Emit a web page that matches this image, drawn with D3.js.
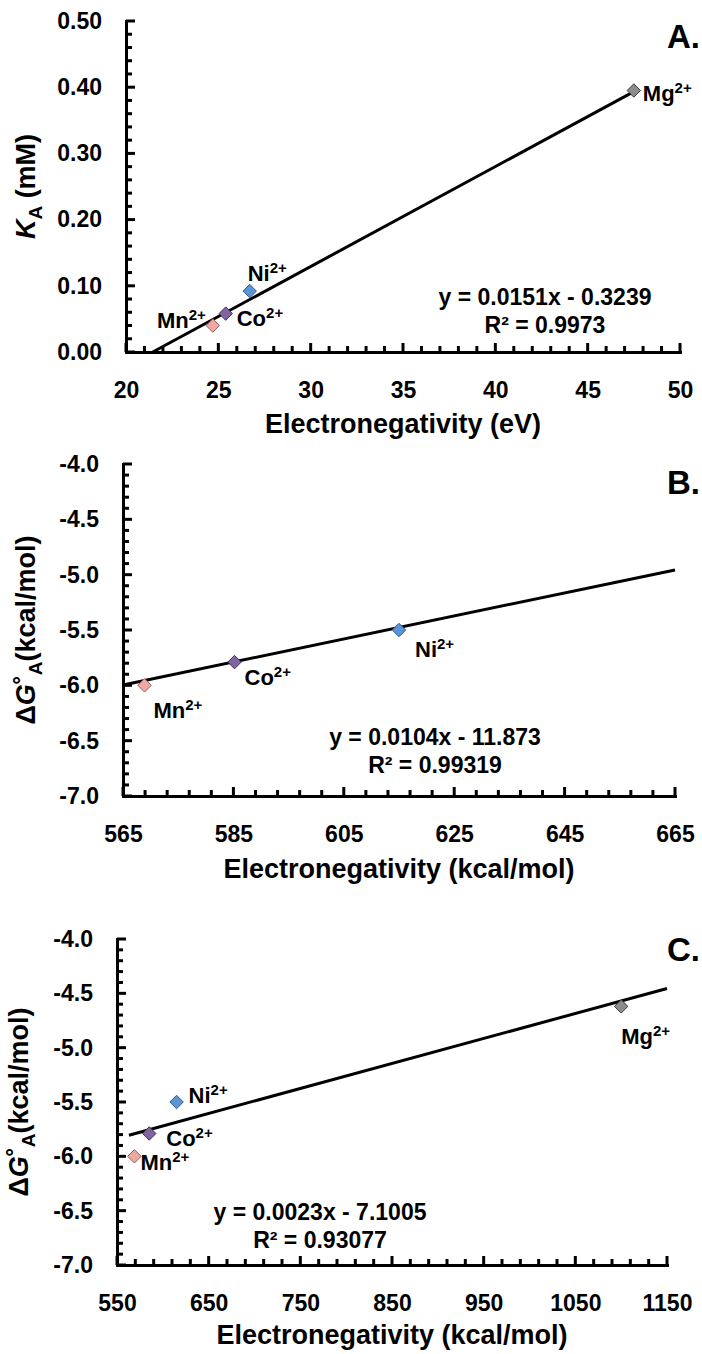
<!DOCTYPE html>
<html>
<head>
<meta charset="utf-8">
<script src="https://cdn.jsdelivr.net/npm/d3@7/dist/d3.min.js"></script>
<style>
  body { margin: 0; background: #fff; }
  text { font-family: "Liberation Sans", Arial, sans-serif; font-weight: bold; fill: #000; }
</style>
</head>
<body>
<svg id="svg" width="702" height="1354"></svg>
<script>
// ions, same order in every panel
var ionNames  = ["Mn", "Co", "Ni", "Mg"];
var ionFill   = ["#EFA9A4", "#8064A2", "#5B95D6", "#8C8C8C"];
var ionStroke = ["#9A5C58", "#3E2F55", "#2E5A8C", "#3A3A3A"];

// A. K_A vs electronegativity (eV)
var aX = [24.7, 25.4, 26.7, 47.5];
var aY = [0.040, 0.058, 0.092, 0.395];
var aFit = [0.0151, -0.3239];
var aFitFrom = [21.45, 47.5];
var aEq = ["y = 0.0151x - 0.3239", "R\u00B2 = 0.9973"];
var aXTicks = [20, 25, 30, 35, 40, 45, 50];
var aYTicks = [0, 0.1, 0.2, 0.3, 0.4, 0.5];

// B. dG vs electronegativity (kcal/mol), no Mg
var bX = [568.9, 585.2, 615.0];
var bY = [-6.00, -5.79, -5.50];
var bFit = [0.0104, -11.873];
var bFitFrom = [565, 665];
var bEq = ["y = 0.0104x - 11.873", "R\u00B2 = 0.99319"];
var bXTicks = [565, 585, 605, 625, 645, 665];
var bYTicks = [-7, -6.5, -6, -5.5, -5, -4.5, -4];

// C. dG vs electronegativity (kcal/mol), with Mg
var cX = [569, 585.2, 615.0, 1100];
var cY = [-6.00, -5.79, -5.50, -4.62];
var cFit = [0.0023, -7.1005];
var cFitFrom = [563, 1150];
var cEq = ["y = 0.0023x - 7.1005", "R\u00B2 = 0.93077"];
var cXTicks = [550, 650, 750, 850, 950, 1050, 1150];
var cYTicks = [-7, -6.5, -6, -5.5, -5, -4.5, -4];

var svg = d3.select("#svg");

function notMajor(list) {
    return function(v) { return list.every(function(t) { return Math.abs(t - v) > 1e-6; }); };
}

function drawPanel(p) {
    var x = d3.scaleLinear().domain(p.xDom).range([p.left, p.right]);
    var y = d3.scaleLinear().domain(p.yDom).range([p.bottom, p.top]);
    var g = svg.append("g").attr("class", "panel" + p.letter);

    // ticks (all inward), drawn by hand so they stay thick
    var xMinor = d3.range(p.xDom[0], p.xDom[1] + 1e-9, p.xMinor).filter(notMajor(p.xTicks));
    var yMinor = d3.range(p.yDom[0], p.yDom[1] + 1e-9, p.yMinor).filter(notMajor(p.yTicks));
    var tk = g.append("g").attr("stroke", "#000").attr("stroke-width", 3);
    tk.selectAll(".xt").data(p.xTicks.map(function(v) { return [v, 9]; }).concat(xMinor.map(function(v) { return [v, 6]; })))
        .enter().append("line")
        .attr("x1", function(d) { return x(d[0]); }).attr("x2", function(d) { return x(d[0]); })
        .attr("y1", p.bottom).attr("y2", function(d) { return p.bottom - d[1]; });
    tk.selectAll(".yt").data(p.yTicks.map(function(v) { return [v, 9]; }).concat(yMinor.map(function(v) { return [v, 6]; })))
        .enter().append("line")
        .attr("y1", function(d) { return y(d[0]); }).attr("y2", function(d) { return y(d[0]); })
        .attr("x1", p.left).attr("x2", function(d) { return p.left + d[1]; });

    var xa = g.append("g").attr("transform", "translate(0," + p.bottom + ")")
        .call(d3.axisBottom(x).tickValues(p.xTicks).tickSize(0)
            .tickPadding(30).tickFormat(d3.format("d")));
    var ya = g.append("g").attr("transform", "translate(" + p.left + ",0)")
        .call(d3.axisLeft(y).tickValues(p.yTicks).tickSize(0)
            .tickPadding(24).tickFormat(function(d) { return d3.format(p.yFmt)(d).replace("\u2212", "-"); }));
    [xa, ya].forEach(function(a) {
        a.select(".domain").attr("stroke", "#000").attr("stroke-width", 3).attr("stroke-linecap", "square");
        a.selectAll("text").attr("font-size", 23).attr("fill", "#000");
        a.attr("font-family", null);
    });

    // trend line
    var line = d3.line().x(function(d) { return x(d); }).y(function(d) { return y(p.fit[0] * d + p.fit[1]); });
    g.append("path").attr("d", line(p.fitFrom)).attr("fill", "none")
        .attr("stroke", "#000").attr("stroke-width", 3);

    // markers
    var pts = p.xs.map(function(v, i) { return { x: v, y: p.ys[i], i: i }; });
    var sym = d3.symbol().type(d3.symbolDiamond2).size(115);
    g.selectAll(".pt").data(pts).enter().append("path").attr("class", "pt")
        .attr("d", sym)
        .attr("transform", function(d) { return "translate(" + x(d.x) + "," + y(d.y) + ")"; })
        .attr("fill", function(d) { return ionFill[d.i]; })
        .attr("stroke", function(d) { return ionStroke[d.i]; })
        .attr("stroke-width", 1);

    // ion labels
    var lab = g.selectAll(".ion").data(pts).enter().append("text").attr("class", "ion")
        .attr("x", function(d) { return x(d.x) + p.labOff[d.i][0]; })
        .attr("y", function(d) { return y(d.y) + p.labOff[d.i][1]; })
        .attr("text-anchor", function(d) { return p.labOff[d.i][2] || "start"; })
        .attr("font-size", 22);
    lab.append("tspan").text(function(d) { return ionNames[d.i]; });
    lab.append("tspan").attr("font-size", 15).attr("dy", -8).text("2+");

    // equation
    g.append("text").attr("x", p.eqPos[0]).attr("y", p.eqPos[1]).attr("text-anchor", "middle")
        .attr("font-size", 23).text(p.eq[0]);
    g.append("text").attr("x", p.eqPos[0]).attr("y", p.eqPos[1] + 28).attr("text-anchor", "middle")
        .attr("font-size", 23).text(p.eq[1]);

    // axis titles
    g.append("text").attr("x", (p.left + p.right) / 2).attr("y", p.bottom + p.xTitleGap)
        .attr("text-anchor", "middle").attr("font-size", 27).text(p.xTitle);
    var yt = g.append("text").attr("text-anchor", "middle").attr("font-size", 27)
        .attr("transform", "translate(" + p.yTitleX + "," + (p.top + p.bottom) / 2 + ") rotate(-90)");
    p.yTitle(yt);

    // panel letter
    g.append("text").attr("x", 700).attr("y", p.letterY).attr("text-anchor", "end")
        .attr("font-size", 33).text(p.letter + ".");
}

function dGTitle(t) {
    t.append("tspan").text("\u0394");
    t.append("tspan").attr("font-style", "italic").text("G");
    t.append("tspan").text("\u02DA");
    t.append("tspan").attr("font-size", 19).attr("dy", 7).text("A");
    t.append("tspan").attr("dy", -7).text("(kcal/mol)");
}

drawPanel({
    letter: "A", letterY: 48,
    left: 126, right: 680, top: 21, bottom: 352,
    xDom: [20, 50], yDom: [0, 0.5], xMinor: 1, yMinor: 0.02, yFmt: ".2f",
    xTicks: aXTicks, yTicks: aYTicks, xs: aX, ys: aY,
    fit: aFit, fitFrom: aFitFrom, eq: aEq, eqPos: [545, 305],
    labOff: [[-7, 2, "end"], [11, 12], [-2, -10], [9, 10]],
    xTitle: "Electronegativity (eV)", xTitleGap: 81, yTitleX: 35,
    yTitle: function(t) {
        t.append("tspan").attr("font-style", "italic").text("K");
        t.append("tspan").attr("font-size", 19).attr("dy", 7).text("A");
        t.append("tspan").attr("dy", -7).text(" (mM)");
    }
});

drawPanel({
    letter: "B", letterY: 494,
    left: 123, right: 675, top: 464, bottom: 796,
    xDom: [565, 665], yDom: [-7, -4], xMinor: 4, yMinor: 0.1, yFmt: ".1f",
    xTicks: bXTicks, yTicks: bYTicks, xs: bX, ys: bY,
    fit: bFit, fitFrom: bFitFrom, eq: bEq, eqPos: [435, 745],
    labOff: [[9, 33], [10, 23], [16, 27]],
    xTitle: "Electronegativity (kcal/mol)", xTitleGap: 82, yTitleX: 35,
    yTitle: dGTitle
});

drawPanel({
    letter: "C", letterY: 961,
    left: 117, right: 667, top: 939, bottom: 1265,
    xDom: [550, 1150], yDom: [-7, -4], xMinor: 20, yMinor: 0.1, yFmt: ".1f",
    xTicks: cXTicks, yTicks: cYTicks, xs: cX, ys: cY,
    fit: cFit, fitFrom: cFitFrom, eq: cEq, eqPos: [320, 1220],
    labOff: [[6, 14], [17, 12], [12, 1], [0, 38]],
    xTitle: "Electronegativity (kcal/mol)", xTitleGap: 79, yTitleX: 28,
    yTitle: dGTitle
});
</script>
</body>
</html>
